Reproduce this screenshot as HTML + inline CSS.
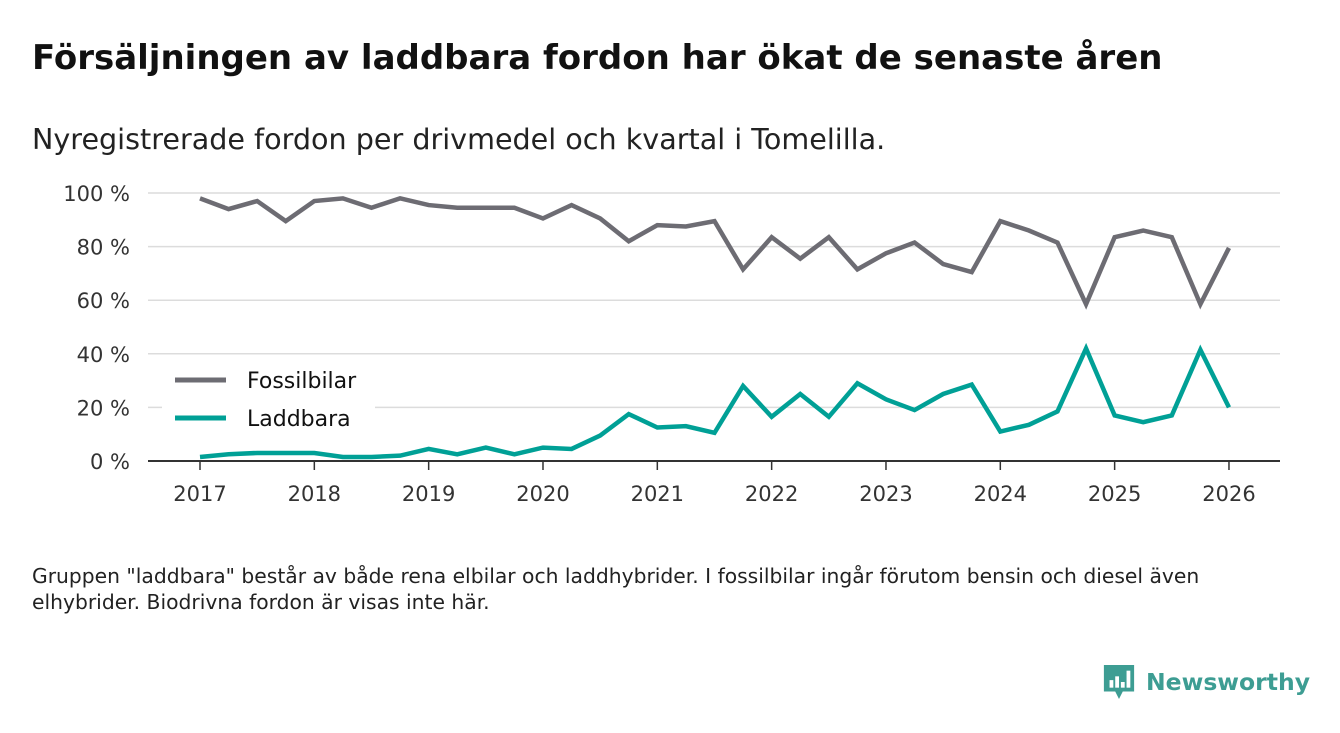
<!DOCTYPE html>
<html><head><meta charset="utf-8"><style>
body{margin:0;width:1340px;height:733px;background:#fff;font-family:"DejaVu Sans","Liberation Sans",sans-serif;overflow:hidden;position:relative}
h1{position:absolute;left:32px;top:38px;margin:0;font-size:34px;font-weight:bold;color:#111;white-space:nowrap}
.sub{position:absolute;left:32px;top:122px;font-size:28.6px;color:#222;white-space:nowrap}
.note{position:absolute;left:32px;top:563px;font-size:20.3px;line-height:26px;color:#222;width:1230px}
.logo{position:absolute;left:1102px;top:662px;display:flex;align-items:center;color:#3d9d93;font-size:23.5px;font-weight:bold}
</style></head><body>
<h1>Försäljningen av laddbara fordon har ökat de senaste åren</h1>
<div class="sub">Nyregistrerade fordon per drivmedel och kvartal i Tomelilla.</div>
<svg id="chart" width="1340" height="540" style="position:absolute;left:0;top:0;font-family:'DejaVu Sans',sans-serif"></svg>
<div class="note">Gruppen "laddbara" består av både rena elbilar och laddhybrider. I fossilbilar ingår förutom bensin och diesel även elhybrider. Biodrivna fordon är visas inte här.</div>
<div class="logo"><svg width="34" height="40" viewBox="0 0 36 40"><path d="M2 2h32v28H22l-4 8-4-8H2z" fill="#3d9d93"/><rect x="8" y="18" width="4" height="8" fill="#fff"/><rect x="14" y="14" width="4" height="12" fill="#fff"/><rect x="20" y="20" width="4" height="6" fill="#fff"/><rect x="26" y="8" width="4" height="18" fill="#fff"/></svg><span style="margin-left:10px">Newsworthy</span></div>
<script>
const years=[2017,2018,2019,2020,2021,2022,2023,2024,2025,2026];
const yTicks=[0,20,40,60,80,100];
const fossil=[98,94,97,89.5,97,98,94.5,98,95.5,94.5,94.5,94.5,90.5,95.5,90.5,82,88,87.5,89.5,71.5,83.5,75.5,83.5,71.5,77.5,81.5,73.5,70.5,89.5,86,81.5,58.5,83.5,86,83.5,58.5,79.5];
const laddbara=[1.5,2.5,3,3,3,1.5,1.5,2,4.5,2.5,5,2.5,5,4.5,9.5,17.5,12.5,13,10.5,28,16.5,25,16.5,29,23,19,25,28.5,11,13.5,18.5,42,17,14.5,17,41.5,20];
const svg=document.getElementById('chart');const NS='http://www.w3.org/2000/svg';
const xS=t=>200+(t-2017)*114.33;const yS=v=>461-v*2.68;
function mk(tag,a){const e=document.createElementNS(NS,tag);for(const k in a)e.setAttribute(k,a[k]);svg.appendChild(e);return e;}
yTicks.forEach(v=>{
 const g=mk('line',{x1:148,x2:1280,y1:yS(v),y2:yS(v),stroke:'#dcdcdc','stroke-width':1.5});
 
 
 const t=mk('text',{x:130,y:yS(v)+8,'text-anchor':'end','font-size':21,fill:'#333'});t.textContent=v+' %';
 
 
});
const ax=mk('line',{x1:148,x2:1280,y1:461,y2:461,stroke:'#333','stroke-width':2});


years.forEach(y=>{
 const tk=mk('line',{x1:xS(y),x2:xS(y),y1:461,y2:470,stroke:'#333','stroke-width':1.5});
 
 
 const t=mk('text',{x:xS(y),y:501,'text-anchor':'middle','font-size':21,fill:'#333'});t.textContent=y;
 
 
});
function line(d,c,n){const p=mk('polyline',{points:d.map((v,i)=>xS(2017+i*0.25)+','+yS(v)).join(' '),fill:'none',stroke:c,'stroke-width':4.5,'stroke-linejoin':'miter'});
 
 }
line(fossil,'#6d6c73','fossilbilar-line');
line(laddbara,'#00a096','laddbara-line');
const lb=mk('rect',{x:162,y:362,width:213,height:72,fill:'#fff'});


[['Fossilbilar','#6d6c73',380],['Laddbara','#00a096',418]].forEach(([n,c,y])=>{
 const l=mk('line',{x1:175,x2:226,y1:y,y2:y,stroke:c,'stroke-width':5});
 
 
 const t=mk('text',{x:247,y:y+8,'font-size':22,fill:'#111'});t.textContent=n;
 
 
});
</script>
</body></html>
